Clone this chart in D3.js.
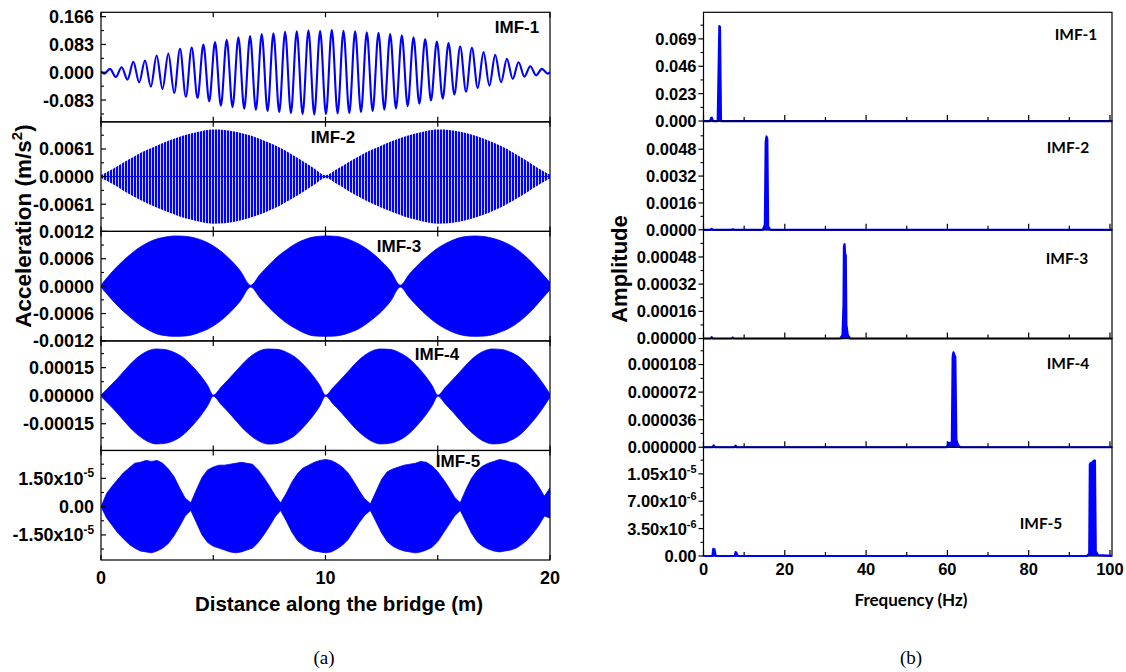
<!DOCTYPE html>
<html>
<head>
<meta charset="utf-8">
<script src="https://cdn.jsdelivr.net/npm/d3@7"></script>
<style>
  html, body { margin: 0; padding: 0; background: #fff; }
  svg { display: block; }
</style>
</head>
<body>
<svg id="fig" width="1126" height="672"></svg>
<script>
// ---------------------------------------------------------------
// Data
// ---------------------------------------------------------------
const imfNames = ["IMF-1", "IMF-2", "IMF-3", "IMF-4", "IMF-5"];

// IMF-1: successive peaks and troughs along the bridge (m, m/s²)
const imf1Distance = [0, 0.15,
  0.40, 0.66, 0.92, 1.18, 1.44, 1.70, 1.96, 2.22, 2.48, 2.74,
  3.00, 3.26, 3.52, 3.78, 4.04, 4.30, 4.56, 4.82, 5.08, 5.34,
  5.60, 5.86, 6.12, 6.38, 6.64, 6.90, 7.16, 7.42, 7.68, 7.94,
  8.20, 8.46, 8.72, 8.98, 9.24, 9.50, 9.76, 10.02, 10.28, 10.54,
  10.80, 11.06, 11.32, 11.58, 11.84, 12.10, 12.36, 12.62, 12.88, 13.14,
  13.40, 13.66, 13.92, 14.18, 14.44, 14.70, 14.96, 15.22, 15.48, 15.74,
  16.00, 16.26, 16.52, 16.78, 17.04, 17.30, 17.56, 17.82, 18.08, 18.34,
  18.60, 18.86, 19.12, 19.38, 19.64, 19.90, 20.00];
const imf1Accel = [0.001, -0.004,
  0.010, -0.014, 0.015, -0.022, 0.031, -0.030, 0.035, -0.043, 0.050, -0.050,
  0.056, -0.062, 0.070, -0.073, 0.074, -0.077, 0.083, -0.087, 0.090, -0.100,
  0.097, -0.104, 0.104, -0.109, 0.108, -0.112, 0.114, -0.116, 0.116, -0.119,
  0.121, -0.122, 0.122, -0.125, 0.125, -0.126, 0.124, -0.125, 0.127, -0.123,
  0.124, -0.122, 0.122, -0.119, 0.119, -0.116, 0.118, -0.112, 0.114, -0.108,
  0.110, -0.101, 0.104, -0.094, 0.099, -0.084, 0.092, -0.079, 0.087, -0.066,
  0.077, -0.058, 0.073, -0.047, 0.060, -0.040, 0.052, -0.030, 0.040, -0.020,
  0.030, -0.013, 0.018, -0.009, 0.010, -0.004, 0.001];

// IMF-2: envelope of the dense oscillation (m, ×1e-3 m/s²)
const imf2Distance = [0, 0.5, 1, 1.5, 2, 2.5, 3, 3.5, 4, 4.5, 5, 5.5, 6, 6.5, 7, 7.5, 8, 8.5, 9, 9.5,
  10, 10.5, 11, 11.5, 12, 12.5, 13, 13.5, 14, 14.5, 15, 15.5, 16, 16.5, 17, 17.5, 18, 18.5, 19, 19.5, 20];
const imf2Envelope = [0.3, 1.6, 3.1, 4.5, 5.8, 6.9, 7.9, 8.8, 9.5, 10.1, 10.4, 10.3, 9.9, 9.3, 8.5, 7.5, 6.3, 4.9, 3.4, 1.8,
  0.3, 1.6, 3.1, 4.5, 5.8, 6.9, 7.9, 8.8, 9.5, 10.1, 10.4, 10.3, 9.9, 9.3, 8.5, 7.5, 6.3, 4.9, 3.4, 1.8, 0.4];

// IMF-3: upper / lower envelope (m, ×1e-4 m/s²)
const imf3Distance = [0, 0.4, 0.8, 1.2, 1.6, 2.0, 2.4, 2.8, 3.3, 3.8, 4.3, 4.8, 5.3, 5.8, 6.2, 6.67,
  7.07, 7.47, 7.87, 8.27, 8.67, 9.07, 9.5, 10.0, 10.5, 11.0, 11.5, 12.0, 12.5, 12.9, 13.33,
  13.73, 14.13, 14.53, 14.93, 15.33, 15.73, 16.15, 16.65, 17.15, 17.65, 18.15, 18.65, 19.15, 19.55, 20.0];
const imf3Upper = [0.2, 2.6, 4.7, 6.5, 8.1, 9.3, 10.2, 10.7, 11.0, 10.9, 10.4, 9.4, 7.8, 5.6, 3.4, 0.2,
  2.5, 4.6, 6.5, 8.0, 9.3, 10.2, 10.8, 11.0, 10.9, 10.3, 9.2, 7.6, 5.4, 3.3, 0.2,
  2.6, 4.7, 6.5, 8.1, 9.3, 10.2, 10.8, 11.0, 10.8, 10.2, 9.2, 7.6, 5.4, 3.3, 0.8];
const imf3Lower = [0.2, 2.5, 4.6, 6.4, 8.0, 9.3, 10.3, 10.8, 11.0, 10.9, 10.3, 9.3, 7.7, 5.5, 3.3, 0.2,
  2.5, 4.6, 6.5, 8.1, 9.3, 10.3, 10.9, 11.0, 10.9, 10.3, 9.3, 7.6, 5.5, 3.3, 0.2,
  2.5, 4.6, 6.5, 8.1, 9.3, 10.2, 10.8, 11.0, 10.9, 10.3, 9.3, 7.7, 5.5, 3.3, 0.8];

// IMF-4: upper / lower envelope (m, ×1e-5 m/s²)
const imf4Distance = [0, 0.35, 0.7, 1.05, 1.4, 1.75, 2.1, 2.45, 2.85, 3.25, 3.65, 4.05, 4.45, 4.75,
  5.0, 5.35, 5.7, 6.05, 6.4, 6.75, 7.1, 7.45, 7.85, 8.25, 8.65, 9.05, 9.45, 9.75,
  10.0, 10.35, 10.7, 11.05, 11.4, 11.75, 12.1, 12.45, 12.85, 13.25, 13.65, 14.05, 14.45, 14.75,
  15.0, 15.35, 15.7, 16.05, 16.4, 16.75, 17.1, 17.45, 17.85, 18.25, 18.65, 19.05, 19.45, 19.75, 20.0];
const imf4Upper = [0.3, 4.5, 8.8, 13.5, 18.0, 21.6, 24.0, 25.0, 24.7, 23.2, 20.5, 16.0, 10.5, 5.5,
  0.3, 4.6, 9.0, 13.6, 18.2, 21.8, 24.2, 25.0, 24.8, 23.3, 20.6, 16.2, 10.6, 5.5,
  0.3, 4.5, 8.9, 13.5, 18.1, 21.7, 24.1, 25.0, 24.8, 23.3, 20.5, 16.1, 10.5, 5.4,
  0.3, 4.6, 9.0, 13.6, 18.2, 21.8, 24.1, 25.0, 24.7, 23.2, 20.5, 16.0, 10.4, 5.4, 0.8];
const imf4Lower = [0.3, 4.6, 9.0, 13.8, 18.4, 22.0, 24.6, 25.8, 25.5, 24.0, 21.0, 16.3, 10.6, 5.4,
  0.3, 4.7, 9.1, 13.9, 18.5, 22.1, 24.7, 25.9, 25.6, 24.0, 21.1, 16.4, 10.7, 5.5,
  0.3, 4.6, 9.0, 13.8, 18.4, 22.0, 24.6, 25.8, 25.5, 24.0, 21.0, 16.3, 10.6, 5.4,
  0.3, 4.6, 9.1, 13.9, 18.5, 22.1, 24.7, 25.8, 25.5, 23.9, 21.0, 16.2, 10.5, 5.4, 0.8];

// IMF-5: upper / lower envelope sampled every 0.25 m (m, ×1e-5 m/s²)
const imf5Distance = [0, 0.25, 0.5, 0.75, 1, 1.25, 1.5, 1.75, 2, 2.25, 2.5, 2.75, 3, 3.25, 3.5, 3.75,
  4, 4.25, 4.5, 4.75, 5, 5.25, 5.5, 5.75, 6, 6.25, 6.5, 6.75, 7, 7.25, 7.5, 7.75,
  8, 8.25, 8.5, 8.75, 9, 9.25, 9.5, 9.75, 10, 10.25, 10.5, 10.75, 11, 11.25, 11.5, 11.75,
  12, 12.25, 12.5, 12.75, 13, 13.25, 13.5, 13.75, 14, 14.25, 14.5, 14.75, 15, 15.25, 15.5, 15.75,
  16, 16.25, 16.5, 16.75, 17, 17.25, 17.5, 17.75, 18, 18.25, 18.5, 18.75, 19, 19.25, 19.5, 19.75, 20];
const imf5Upper = [0.0, 0.7, 1.1, 1.45, 1.8, 2.05, 2.3, 2.35, 2.45, 2.4, 2.45, 2.3, 2.0, 1.6, 1.0, 0.45,
  0.2, 0.9, 1.55, 1.95, 2.1, 2.2, 2.2, 2.25, 2.3, 2.35, 2.3, 2.25, 1.95, 1.55, 1.1, 0.6,
  0.2, 0.7, 1.3, 1.75, 2.05, 2.2, 2.35, 2.45, 2.5, 2.45, 2.3, 2.1, 1.8, 1.35, 0.85, 0.4,
  0.15, 0.8, 1.45, 1.85, 2.0, 2.1, 2.2, 2.25, 2.3, 2.4, 2.35, 2.15, 1.85, 1.45, 1.0, 0.5,
  0.2, 0.9, 1.5, 1.9, 2.15, 2.3, 2.4, 2.5, 2.45, 2.35, 2.3, 2.1, 1.85, 1.5, 1.05, 0.55, 1.0];
const imf5Lower = [0.0, 0.6, 1.0, 1.4, 1.7, 2.0, 2.2, 2.35, 2.4, 2.45, 2.35, 2.2, 1.95, 1.55, 1.05, 0.5,
  0.2, 0.85, 1.5, 1.9, 2.1, 2.2, 2.3, 2.4, 2.45, 2.4, 2.3, 2.2, 1.9, 1.5, 1.05, 0.55,
  0.2, 0.75, 1.35, 1.8, 2.05, 2.25, 2.35, 2.4, 2.45, 2.4, 2.25, 2.05, 1.75, 1.3, 0.85, 0.45,
  0.2, 0.8, 1.4, 1.85, 2.1, 2.25, 2.35, 2.4, 2.45, 2.4, 2.3, 2.15, 1.85, 1.4, 0.95, 0.5,
  0.2, 0.8, 1.4, 1.85, 2.1, 2.25, 2.35, 2.4, 2.35, 2.3, 2.2, 2.0, 1.75, 1.4, 1.0, 0.5, 0.6];

// Amplitude spectra (Hz, amplitude)
const spec1Freq = [0, 1.6, 1.85, 2.05, 2.3, 3.5, 3.75, 3.9, 4.05, 4.3, 101];
const spec1Amp  = [0, 0, 0.0025, 0.0029, 0, 0, 0.05, 0.0798, 0.0790, 0, 0];
const spec2Freq = [0, 1.7, 2.0, 2.3, 6.9, 7.2, 7.5, 14.6, 15.1, 15.3, 15.5, 15.7, 15.9, 16.4, 101];
const spec2Amp  = [0, 0, 0.00005, 0, 0, 0.00004, 0, 0, 0.0003, 0.0052, 0.00556, 0.0054, 0.0002, 0, 0];
const spec3Freq = [0, 1.7, 2.0, 2.3, 6.9, 7.2, 7.5, 33.6, 34.2, 34.45, 34.55, 34.7, 34.85, 35.0, 35.15, 35.5, 36.1, 101];
const spec3Amp  = [0, 0, 0.000008, 0, 0, 0.000006, 0, 0, 0.00002, 0.0002, 0.00054, 0.000555, 0.000495, 0.00049, 0.00008, 0.00002, 0, 0];
const spec4Freq = [0, 2.2, 2.5, 2.8, 7.6, 7.9, 8.2, 59.8, 60.4, 60.8, 61.1, 61.3, 61.5, 61.7, 61.95, 62.2, 62.6, 63.2, 101];
const spec4Amp  = [0, 0, 0.0000025, 0, 0, 0.000002, 0, 0, 0.000006, 0.000003, 0.000008, 0.000118, 0.000124, 0.000121, 0.000118, 0.00001, 0.000003, 0, 0];
const spec5Freq = [0, 2.2, 2.4, 2.7, 3.0, 7.7, 7.9, 8.1, 8.4, 94.3, 94.9, 95.05, 95.3, 95.7, 96.1, 96.3, 96.5, 97.1, 101];
const spec5Amp  = [0, 0, 9e-7, 8.5e-7, 0, 0, 5e-7, 4e-7, 0, 0, 3e-7, 1.17e-5, 1.19e-5, 1.20e-5, 1.22e-5, 1.22e-5, 6e-7, 1e-7, 0];

// Axis ticks
const distanceTicks = [0, 10, 20];
const distanceMinor = [5, 15];
const accTicks = [
  [-0.083, 0, 0.083, 0.166],
  [-0.0061, 0, 0.0061],
  [-0.0012, -0.0006, 0, 0.0006, 0.0012],
  [-0.00015, 0, 0.00015],
  [-1.5e-5, 0, 1.5e-5]
];
const accTickLabels = [
  ["-0.083", "0.000", "0.083", "0.166"],
  ["-0.0061", "0.0000", "0.0061"],
  ["-0.0012", "-0.0006", "0.0000", "0.0006", "0.0012"],
  ["-0.00015", "0.00000", "0.00015"],
  ["-1.50x10^-5", "0.00", "1.50x10^-5"]
];
const accMinor = [
  [-0.1245, -0.0415, 0.0415, 0.1245],
  [-0.00915, -0.00305, 0.00305, 0.00915],
  [-0.0009, -0.0003, 0.0003, 0.0009],
  [-0.000225, -0.000075, 0.000075, 0.000225],
  [-2.25e-5, -0.75e-5, 0.75e-5, 2.25e-5]
];
const freqTicks = [0, 20, 40, 60, 80, 100];
const freqMinor = [10, 30, 50, 70, 90];
const ampTicks = [
  [0, 0.023, 0.046, 0.069],
  [0, 0.0016, 0.0032, 0.0048],
  [0, 0.00016, 0.00032, 0.00048],
  [0, 0.000036, 0.000072, 0.000108],
  [0, 3.5e-6, 7.0e-6, 1.05e-5]
];
const ampTickLabels = [
  ["0.000", "0.023", "0.046", "0.069"],
  ["0.0000", "0.0016", "0.0032", "0.0048"],
  ["0.00000", "0.00016", "0.00032", "0.00048"],
  ["0.000000", "0.000036", "0.000072", "0.000108"],
  ["0.00", "3.50x10^-6", "7.00x10^-6", "1.05x10^-5"]
];
const ampMinor = [
  [0.0115, 0.0345, 0.0575, 0.0805],
  [0.0008, 0.0024, 0.004, 0.0056],
  [0.00008, 0.00024, 0.0004, 0.00056],
  [0.000018, 0.000054, 0.00009, 0.000126],
  [1.75e-6, 5.25e-6, 8.75e-6, 1.225e-5]
];

// ---------------------------------------------------------------
// Layout and styles
// ---------------------------------------------------------------
const BLUE = "#0000ff";
const ARIAL = "'Liberation Sans', Arial, Helvetica, sans-serif";
const SANS2 = "Lato, 'Open Sans', sans-serif";
const SERIF = "'Liberation Serif', 'Times New Roman', serif";
const LEFT_FS = 18;
const RIGHT_FS = 16.5;

const left  = { x0: 101, x1: 550, top: 12.3, bottom: 560 };
const right = { x0: 703.5, x1: 1112, top: 12.3, bottom: 556 };

const accDomains = [[-0.148, 0.179], [-0.0121, 0.0121], [-0.0012, 0.0012], [-0.000293, 0.000293], [-2.83e-5, 2.98e-5]];
const ampMax = [0.0913, 0.00648, 0.00064, 0.000142, 1.39e-5];

const svg = d3.select("#fig");
svg.append("rect").attr("width", 1126).attr("height", 672).attr("fill", "#fff");

const defs = svg.append("defs");
// vertical hatching used for the densely oscillating IMF-2 trace
const pat = defs.append("pattern").attr("id", "dense").attr("patternUnits", "userSpaceOnUse")
  .attr("x", left.x0).attr("y", 0).attr("width", 3).attr("height", 8);
pat.append("rect").attr("x", 0).attr("y", 0).attr("width", 2.1).attr("height", 8).attr("fill", BLUE);
pat.append("rect").attr("x", 2.1).attr("y", 0).attr("width", 0.9).attr("height", 8).attr("fill", "#c8c8ff");

// label text with an optional "^" superscript part
function richText(sel, str, fs) {
  const parts = str.split("^");
  sel.text(null);
  sel.append("tspan").text(parts[0]);
  if (parts.length > 1) {
    sel.append("tspan").attr("font-size", fs * 0.66).attr("dy", -fs * 0.42).text(parts[1]);
  }
}

const xDist = d3.scaleLinear().domain([0, 20]).range([left.x0, left.x1]);
const xFreq = d3.scaleLinear().domain([0, 100.5]).range([right.x0, right.x1]);

const lh = (left.bottom - left.top) / 5;
const rh = (right.bottom - right.top) / 5;

// ---------------------------------------------------------------
// Panel (a): IMF time histories along the bridge
// ---------------------------------------------------------------
const gL = svg.append("g");
for (let i = 0; i < 5; i++) {
  const y0 = left.top + i * lh, y1 = y0 + lh;
  const y = d3.scaleLinear().domain(accDomains[i]).range([y1, y0]);
  const clipId = "clipL" + i;
  defs.append("clipPath").attr("id", clipId).append("rect")
    .attr("x", left.x0).attr("y", y0).attr("width", left.x1 - left.x0).attr("height", lh);
  const g = gL.append("g");
  const plot = g.append("g").attr("clip-path", `url(#${clipId})`);

  if (i === 0) {
    const pts = imf1Distance.map((d, k) => [d, imf1Accel[k]]);
    plot.append("path").datum(pts)
      .attr("d", d3.line().x(d => xDist(d[0])).y(d => y(d[1])).curve(d3.curveMonotoneX))
      .attr("fill", "none").attr("stroke", BLUE).attr("stroke-width", 2.1);
  } else if (i === 1) {
    const pts = imf2Distance.map((d, k) => [d, imf2Envelope[k] * 1e-3]);
    plot.append("path").datum(pts)
      .attr("d", d3.area().x(d => xDist(d[0])).y0(d => y(-d[1])).y1(d => y(d[1])).curve(d3.curveMonotoneX))
      .attr("fill", "url(#dense)");
    plot.append("line").attr("x1", left.x0).attr("x2", left.x1).attr("y1", y(0)).attr("y2", y(0))
      .attr("stroke", BLUE).attr("stroke-width", 1);
  } else {
    const dist = [null, null, imf3Distance, imf4Distance, imf5Distance][i];
    const up = [null, null, imf3Upper, imf4Upper, imf5Upper][i];
    const lo = [null, null, imf3Lower, imf4Lower, imf5Lower][i];
    const unit = [null, null, 1e-4, 1e-5, 1e-5][i];
    const pts = dist.map((d, k) => [d, up[k] * unit, -lo[k] * unit]);
    const area = d3.area().x(d => xDist(d[0])).y0(d => y(d[2])).y1(d => y(d[1]));
    area.curve(i === 4 ? d3.curveLinear : d3.curveMonotoneX);
    plot.append("path").datum(pts).attr("d", area)
      .attr("fill", BLUE).attr("stroke", BLUE).attr("stroke-width", 0.8);
  }

  // frame
  g.append("rect").attr("x", left.x0).attr("y", y0).attr("width", left.x1 - left.x0).attr("height", lh)
    .attr("fill", "none").attr("stroke", "#000").attr("stroke-width", 1.2);

  // y ticks (inward)
  accTicks[i].forEach((v, k) => {
    g.append("line").attr("x1", left.x0).attr("x2", left.x0 + 5).attr("y1", y(v)).attr("y2", y(v))
      .attr("stroke", "#000").attr("stroke-width", 1.2);
    const t = g.append("text").attr("x", left.x0 - 7).attr("y", y(v)).attr("dy", "0.36em")
      .attr("text-anchor", "end").attr("font-family", ARIAL).attr("font-weight", "bold")
      .attr("font-size", LEFT_FS).attr("fill", "#000");
    richText(t, accTickLabels[i][k], LEFT_FS);
  });
  accMinor[i].forEach(v => {
    g.append("line").attr("x1", left.x0).attr("x2", left.x0 + 3).attr("y1", y(v)).attr("y2", y(v))
      .attr("stroke", "#000").attr("stroke-width", 1.1);
  });
  // x ticks at top and bottom of every panel (inward)
  distanceTicks.concat(distanceMinor).forEach(v => {
    g.append("line").attr("x1", xDist(v)).attr("x2", xDist(v)).attr("y1", y0).attr("y2", y0 + 5)
      .attr("stroke", "#000").attr("stroke-width", 1.2);
    g.append("line").attr("x1", xDist(v)).attr("x2", xDist(v)).attr("y1", y1).attr("y2", y1 - 5)
      .attr("stroke", "#000").attr("stroke-width", 1.2);
  });
}

// IMF labels, panel (a)
const leftLabelPos = [[517, 26.5], [333, 137], [399, 246], [437, 354], [458, 460.5]];
imfNames.forEach((n, i) => {
  gL.append("text").attr("x", leftLabelPos[i][0]).attr("y", leftLabelPos[i][1]).attr("dy", "0.36em")
    .attr("text-anchor", "middle").attr("font-family", ARIAL).attr("font-weight", "bold")
    .attr("font-size", 17).text(n);
});

// distance axis labels
distanceTicks.forEach(v => {
  gL.append("text").attr("x", xDist(v)).attr("y", 578).attr("dy", "0.36em")
    .attr("text-anchor", "middle").attr("font-family", ARIAL).attr("font-weight", "bold")
    .attr("font-size", 18).text(v);
});
gL.append("text").attr("x", 339).attr("y", 604).attr("dy", "0.36em").attr("text-anchor", "middle")
  .attr("font-family", ARIAL).attr("font-weight", "bold").attr("font-size", 20.5)
  .text("Distance along the bridge (m)");
{
  const t = gL.append("text").attr("transform", "translate(23,226) rotate(-90)").attr("dy", "0.36em")
    .attr("text-anchor", "middle").attr("font-family", ARIAL).attr("font-weight", "bold").attr("font-size", 22.5);
  t.append("tspan").text("Acceleration (m/s");
  t.append("tspan").attr("font-size", 15).attr("dy", -9).text("2");
  t.append("tspan").attr("dy", 9).text(")");
}
gL.append("text").attr("x", 324).attr("y", 657).attr("dy", "0.36em").attr("text-anchor", "middle")
  .attr("font-family", SERIF).attr("font-size", 19).text("(a)");

// ---------------------------------------------------------------
// Panel (b): amplitude spectra
// ---------------------------------------------------------------
const gR = svg.append("g");
const specF = [spec1Freq, spec2Freq, spec3Freq, spec4Freq, spec5Freq];
const specA = [spec1Amp, spec2Amp, spec3Amp, spec4Amp, spec5Amp];
for (let i = 0; i < 5; i++) {
  const y0 = right.top + i * rh, y1 = y0 + rh;
  const y = d3.scaleLinear().domain([0, ampMax[i]]).range([y1, y0]);
  const g = gR.append("g");

  // frame
  g.append("rect").attr("x", right.x0).attr("y", y0).attr("width", right.x1 - right.x0).attr("height", rh)
    .attr("fill", "none").attr("stroke", "#000").attr("stroke-width", 1.2);

  // y ticks (outward)
  ampTicks[i].forEach((v, k) => {
    g.append("line").attr("x1", right.x0 - 5).attr("x2", right.x0).attr("y1", y(v)).attr("y2", y(v))
      .attr("stroke", "#000").attr("stroke-width", 1.2);
    const t = g.append("text").attr("x", right.x0 - 7).attr("y", y(v)).attr("dy", "0.36em")
      .attr("text-anchor", "end").attr("font-family", ARIAL).attr("font-weight", "bold")
      .attr("font-size", RIGHT_FS).attr("fill", "#000");
    richText(t, ampTickLabels[i][k], RIGHT_FS);
  });
  ampMinor[i].forEach(v => {
    g.append("line").attr("x1", right.x0 - 3).attr("x2", right.x0).attr("y1", y(v)).attr("y2", y(v))
      .attr("stroke", "#000").attr("stroke-width", 1.1);
  });
  // x ticks along the bottom of every panel (inward)
  freqTicks.forEach(v => {
    g.append("line").attr("x1", xFreq(v)).attr("x2", xFreq(v)).attr("y1", y1).attr("y2", y1 - 6)
      .attr("stroke", "#000").attr("stroke-width", 1.2);
  });
  freqMinor.forEach(v => {
    g.append("line").attr("x1", xFreq(v)).attr("x2", xFreq(v)).attr("y1", y1).attr("y2", y1 - 4)
      .attr("stroke", "#000").attr("stroke-width", 1.2);
  });

  // spectrum
  const clipId = "clipR" + i;
  defs.append("clipPath").attr("id", clipId).append("rect")
    .attr("x", right.x0).attr("y", y0 - 1).attr("width", right.x1 - right.x0).attr("height", rh + 3);
  const pts = specF[i].map((f, k) => [f, specA[i][k]]);
  const plot = g.append("g").attr("clip-path", `url(#${clipId})`);
  plot.append("path").datum(pts)
    .attr("d", d3.area().x(d => xFreq(d[0])).y0(y(0)).y1(d => y(d[1])))
    .attr("fill", BLUE);
  plot.append("path").datum(pts)
    .attr("d", d3.line().x(d => xFreq(d[0])).y(d => y(d[1])))
    .attr("fill", "none").attr("stroke", BLUE).attr("stroke-width", 2.2).attr("stroke-linejoin", "round");
}

// IMF labels, panel (b)
const rightLabelPos = [[1076, 34], [1068, 147], [1067, 258], [1068, 363], [1041, 523]];
imfNames.forEach((n, i) => {
  gR.append("text").attr("x", rightLabelPos[i][0]).attr("y", rightLabelPos[i][1]).attr("dy", "0.36em")
    .attr("text-anchor", "middle").attr("font-family", SANS2).attr("font-weight", "bold")
    .attr("font-size", 15.5).text(n);
});

freqTicks.forEach(v => {
  gR.append("text").attr("x", xFreq(v)).attr("y", 569).attr("dy", "0.36em")
    .attr("text-anchor", "middle").attr("font-family", ARIAL).attr("font-weight", "bold")
    .attr("font-size", RIGHT_FS).text(v);
});
gR.append("text").attr("x", 911).attr("y", 600).attr("dy", "0.36em").attr("text-anchor", "middle")
  .attr("font-family", SANS2).attr("font-weight", "bold").attr("font-size", 17).text("Frequency (Hz)");
gR.append("text").attr("transform", "translate(619,269) rotate(-90)").attr("dy", "0.36em")
  .attr("text-anchor", "middle").attr("font-family", ARIAL).attr("font-weight", "bold").attr("font-size", 22)
  .text("Amplitude");
gR.append("text").attr("x", 911).attr("y", 657).attr("dy", "0.36em").attr("text-anchor", "middle")
  .attr("font-family", SERIF).attr("font-size", 19).text("(b)");
</script>
</body>
</html>
